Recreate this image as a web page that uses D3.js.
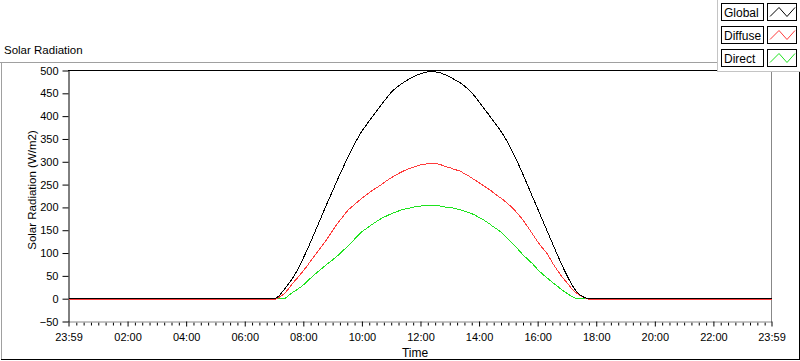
<!DOCTYPE html>
<html><head><meta charset="utf-8">
<script src="https://cdn.jsdelivr.net/npm/d3@7"></script>
<style>
html,body{margin:0;padding:0;background:#fff;}
svg{display:block;font-family:"Liberation Sans",Arial,sans-serif;}
</style></head><body>
<svg id="c" width="800" height="361"></svg>
<script>
// time in minutes from midnight (-1 = 23:59 of the previous day)
const minutes = [-1,
  420,430,440,450,460,470, 480,490,500,510,520,530, 540,550,560,570,580,590,
  600,610,620,630,640,650, 660,670,680,690,700,710, 720,730,740,750,760,770,
  780,790,800,810,820,830, 840,850,860,870,880,890, 900,910,920,930,940,950,
  960,970,980,990,1000,1010, 1020,1030,1040,1050,1060,1070,
  1439];
const globalValues = [0,
  0,6,19,33,48,67, 89,112,137,162,187,212, 236,261,284,307,329,349,
  367,382,397,411,425,439, 452,462,470,477,483,489, 493,496,498,497,495,491,
  486,480,474,466,457,445, 431,417,403,388,374,358, 340,319,296,272,247,222,
  197,172,147,122,97,73, 51,31,15,6,1,0,
  0];
const diffuseValues = [-2,
  -2,3,10,22,36,48, 61,75,90,104,118,133, 149,165,178,192,202,211,
  220,228,236,243,250,258, 265,271,277,282,286,290, 293,295,297,296,294,290,
  287,283,280,274,268,261, 254,247,240,232,224,216, 207,197,185,172,157,141,
  125,111,98,79,63,48, 35,22,12,5,0,-2,
  -2];
const directValues = [0,
  0,0,0,7,15,22, 30,40,50,59,68,77, 85,94,104,114,125,136,
  147,154,162,169,176,181, 186,190,194,197,199,202, 203,204,205,204,203,201,
  200,198,195,192,188,184, 178,172,165,157,150,141, 130,119,108,96,86,76,
  64,54,45,36,28,19, 12,5,0,0,0,0,
  0];
const seriesNames = ["Global", "Diffuse", "Direct"];
const seriesColors = ["#000000", "#ff3b3b", "#1ee31e"];
const xTickMinutes = [-1,120,240,360,480,600,720,840,960,1080,1200,1320,1439];
const xTickLabels = ["23:59","02:00","04:00","06:00","08:00","10:00","12:00","14:00","16:00","18:00","20:00","22:00","23:59"];
const yTicks = [-50,0,50,100,150,200,250,300,350,400,450,500];
const chartTitle = "Solar Radiation";
const yTitle = "Solar Radiation (W/m2)";
const xTitle = "Time";

const svg = d3.select("#c");
const x = d3.scaleLinear().domain([-1, 1439]).range([68.5, 771.5]);
const y = d3.scaleLinear().domain([-50, 500]).range([321.5, 70.5]);

// outer frame
svg.append("line").attr("x1",0).attr("x2",718).attr("y1",62.5).attr("y2",62.5).attr("stroke","#a0a0a0");
svg.append("line").attr("x1",1.5).attr("x2",1.5).attr("y1",62).attr("y2",360).attr("stroke","#a0a0a0");
svg.append("line").attr("x1",1).attr("x2",800).attr("y1",359.5).attr("y2",359.5).attr("stroke","#000");
svg.append("line").attr("x1",799.5).attr("x2",799.5).attr("y1",62).attr("y2",360).attr("stroke","#000");

// plot frame
svg.append("line").attr("x1",68).attr("x2",772).attr("y1",70.5).attr("y2",70.5).attr("stroke","#000");
svg.append("line").attr("x1",771.5).attr("x2",771.5).attr("y1",70).attr("y2",322).attr("stroke","#888");

// title
svg.append("text").attr("x",4).attr("y",54).attr("font-size","11.5px").attr("fill","#000").text(chartTitle);

// y axis
const yAxis = svg.append("g").attr("transform","translate(68.5,0)")
  .call(d3.axisLeft(y).tickValues(yTicks).tickSize(6).tickSizeOuter(0).tickPadding(4));
yAxis.selectAll("text").attr("font-size","11px").attr("font-family","Liberation Sans, Arial, sans-serif").attr("fill","#000");
yAxis.select(".domain").attr("stroke","#000");

// x axis minor ticks
const minorTicks = d3.range(15, 1439, 15).filter(m => m % 120 !== 0);
const xMinor = svg.append("g").attr("transform","translate(0,321.5)")
  .call(d3.axisBottom(x).tickValues(minorTicks).tickSize(4).tickSizeOuter(0).tickFormat(""));
xMinor.select(".domain").remove();
xMinor.selectAll("line").attr("y1",1);

// x axis major
const xAxis = svg.append("g").attr("transform","translate(0,321.5)")
  .call(d3.axisBottom(x).tickValues(xTickMinutes).tickFormat((d,i)=>xTickLabels[i]).tickSize(5).tickSizeOuter(0).tickPadding(7));
xAxis.select(".domain").attr("stroke","#888");
xAxis.selectAll("text").attr("font-size","11px").attr("font-family","Liberation Sans, Arial, sans-serif").attr("fill","#000");

// axis titles
svg.append("text").attr("transform","translate(36,190) rotate(-90)").attr("text-anchor","middle")
  .attr("font-size","11.5px").text(yTitle);
svg.append("text").attr("x",415).attr("y",357).attr("text-anchor","middle").attr("font-size","12px").text(xTitle);

// series
const seriesValues = [globalValues, diffuseValues, directValues];
const line = d3.line().x(d => x(d.t)).y(d => y(d.v)).curve(d3.curveMonotoneX);
const drawOrder = [2, 1, 0];
drawOrder.forEach(k => {
  const pts = minutes.map((t, i) => ({t, v: seriesValues[k][i]}));
  svg.append("path").datum(pts).attr("d", line).attr("fill","none")
    .attr("stroke", seriesColors[k]).attr("stroke-width",1).attr("shape-rendering","crispEdges");
});

// legend
const lg = svg.append("g");
lg.append("rect").attr("x",717.5).attr("y",-1).attr("width",83).attr("height",72.5).attr("fill","#fff").attr("stroke","#c4c4c4");
seriesNames.forEach((name, i) => {
  const top = 3.5 + i * 23;
  lg.append("rect").attr("x",721.5).attr("y",top).attr("width",42).attr("height",17).attr("fill","#fff").attr("stroke","#000");
  lg.append("text").attr("x",724).attr("y",top + 13.5).attr("font-size","12px").text(name);
  lg.append("rect").attr("x",767.5).attr("y",top).attr("width",29).attr("height",17).attr("fill","#fff").attr("stroke","#000");
  const zz = [[770,top+13],[779,top+4],[787,top+13],[795,top+4]];
  lg.append("polyline").attr("points", zz.map(p=>p.join(",")).join(" ")).attr("fill","none")
    .attr("stroke", seriesColors[i]).attr("stroke-width",1);
});
</script>
</body></html>
